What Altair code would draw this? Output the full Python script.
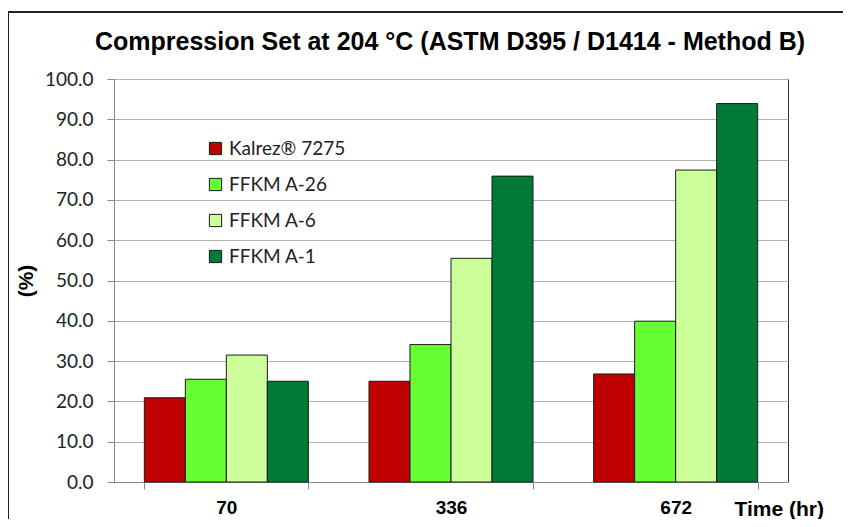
import altair as alt
import pandas as pd

title_text = "Compression Set at 204 °C (ASTM D395 / D1414 - Method B)"
times = ["70", "336", "672"]
series = ["Kalrez® 7275", "FFKM A-26", "FFKM A-6", "FFKM A-1"]
colors = ["#C00000", "#66FF33", "#CCFF99", "#007A37"]
values = {
    "Kalrez® 7275": [20.9, 25.0, 26.8],
    "FFKM A-26": [25.5, 34.1, 39.9],
    "FFKM A-6": [31.5, 55.5, 77.4],
    "FFKM A-1": [25.0, 75.9, 93.9],
}

rows = []
for s in series:
    for t, v in zip(times, values[s]):
        rows.append({"time": t, "series": s, "value": v})
df = pd.DataFrame(rows)

W, H = 674, 403

bars = alt.Chart(df).mark_bar(stroke="#1a1a1a", strokeWidth=1).encode(
    x=alt.X("time:N", sort=times,
            scale=alt.Scale(paddingInner=0.27, paddingOuter=0.135),
            axis=alt.Axis(title="Time (hr)", labelAngle=0, labelFont="Liberation Sans",
                          labelFontWeight="bold", labelFontSize=19, labelColor="#000",
                          labelPadding=9, tickBand="extent", tickSize=7, tickColor="#888",
                          domainColor="#888", grid=False,
                          titleFont="Liberation Sans", titleFontWeight="bold", titleFontSize=21,
                          titleColor="#000", titleAnchor="start", titleAlign="left",
                          titleAngle=0, titleX=620, titleY=27, titleBaseline="middle")),
    xOffset=alt.XOffset("series:N", sort=series,
                        scale=alt.Scale(paddingInner=0, paddingOuter=0)),
    y=alt.Y("value:Q", scale=alt.Scale(domain=[0, 100], nice=False),
            axis=alt.Axis(title="(%)", values=list(range(0, 101, 10)), format=".1f",
                          labelFont="Lato", labelFontSize=19, labelColor="#222",
                          labelPadding=14, tickSize=7, tickColor="#888", domainColor="#888",
                          gridColor="#b3b3b3", gridWidth=1,
                          titleFont="Liberation Sans", titleFontWeight="bold",
                          titleFontSize=21, titleColor="#000", titlePadding=8)),
    color=alt.Color("series:N", sort=series,
                    scale=alt.Scale(domain=series, range=colors),
                    legend=alt.Legend(title=None, orient="none", legendX=92, legendY=60,
                                      symbolType="square", symbolSize=150,
                                      symbolStrokeColor="#1a1a1a", symbolStrokeWidth=1,
                                      symbolOpacity=1,
                                      labelFont="Lato", labelFontSize=19, labelColor="#222",
                                      labelOffset=4, rowPadding=16)),
)

frame = alt.Chart(df).mark_rect(fill="transparent", stroke="#222", strokeWidth=2).encode(
    x=alt.value(-106), x2=alt.value(760), y=alt.value(-67), y2=alt.value(460)
)

title = alt.Chart(pd.DataFrame({"t": [title_text]})).mark_text(
    font="Liberation Sans", fontSize=25, fontWeight="bold", color="#000",
    align="center", baseline="middle"
).encode(text="t:N", x=alt.value(336), y=alt.value(-37))

chart = alt.layer(frame, bars, title).properties(
    width=W, height=H,
    autosize=alt.AutoSizeParams(type="none"),
    padding={"left": 106, "top": 71, "right": 55, "bottom": 37},
).configure_view(stroke="#333", strokeWidth=1)

chart.save("out.html", embed_options={"renderer": "svg", "actions": False})
